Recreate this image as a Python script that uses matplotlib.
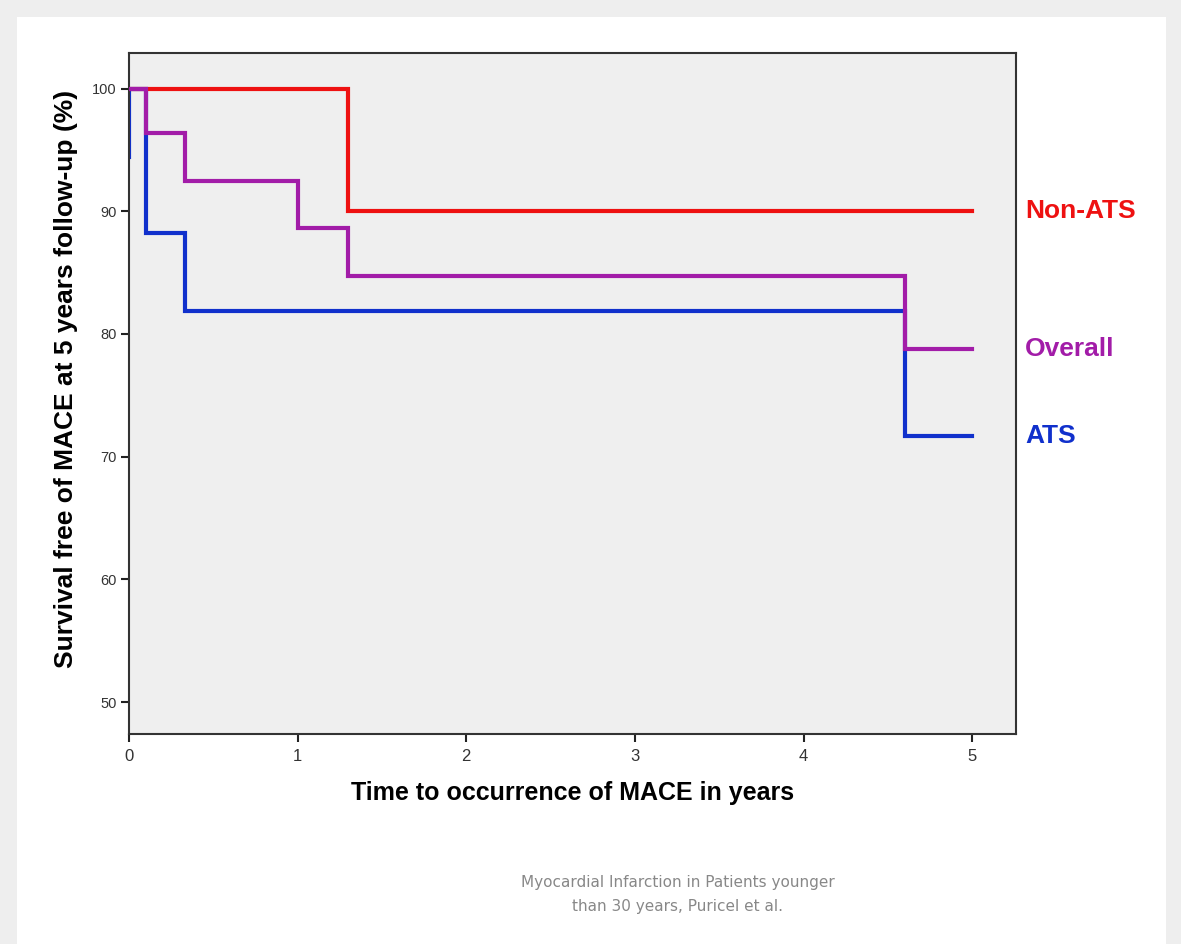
import matplotlib.pyplot as plt
from matplotlib.patches import Rectangle

# Kaplan-Meier style steps
t_nonats = [0, 0.1, 1.3, 1.3, 5.0]
s_nonats = [100, 100, 100, 90, 90]

t_overall = [0, 0.1, 0.1, 0.33, 0.33, 1.0, 1.0, 1.3, 1.3, 4.6, 4.6, 5.0]
s_overall = [100, 100, 96.4, 96.4, 92.5, 92.5, 88.6, 88.6, 84.7, 84.7, 78.8, 78.8]

t_ats = [0, 0, 0.1, 0.1, 0.33, 0.33, 4.6, 4.6, 5.0]
s_ats = [94.4, 100, 100, 88.2, 88.2, 81.9, 81.9, 71.7, 71.7]

group_labels = ["Non-ATS", "Overall", "ATS"]
label_values = [90, 78.8, 71.7]
colors = ["#ee1111", "#a21ca8", "#1030cc"]

W, H = 1181, 944
fig = plt.figure(figsize=(W / 100, H / 100), dpi=100)
fig.patch.set_facecolor("#eeeeee")
fig.patches.append(Rectangle((17 / W, 0), (1166 - 17) / W, (H - 17) / H,
                             transform=fig.transFigure, facecolor="white",
                             edgecolor="none", zorder=-10))

# axes box in pixels: left 129, right 1016, top 53, bottom 734
ax = fig.add_axes([129 / W, 1 - 734 / H, (1016 - 129) / W, (734 - 53) / H])
ax.set_zorder(1)
ax.set_facecolor("#efefef")

ax.plot(t_ats, s_ats, color=colors[2], lw=3, zorder=2, solid_joinstyle="miter")
ax.plot(t_nonats, s_nonats, color=colors[0], lw=3, zorder=3, solid_joinstyle="miter")
ax.plot(t_overall, s_overall, color=colors[1], lw=3, zorder=4, solid_joinstyle="miter")

ax.set_xlim(0, 5.26)
ax.set_ylim(47.4, 102.9)
ax.set_xticks([0, 1, 2, 3, 4, 5])
ax.set_yticks([50, 60, 70, 80, 90, 100])
ax.tick_params(direction="out", length=6, width=1.5,
               colors="#222222", labelcolor="#333333")
ax.tick_params(axis="x", pad=5, labelsize=12)
ax.tick_params(axis="y", pad=3, labelsize=10.5)
for lbl in ax.get_xticklabels() + ax.get_yticklabels():
    lbl.set_family("Liberation Sans")
for sp in ax.spines.values():
    sp.set_linewidth(1.5)
    sp.set_color("#333333")

for lab, v, c in zip(group_labels, label_values, colors):
    ax.text(1.01, v, lab, color=c, fontsize=19, fontweight="bold",
            transform=ax.get_yaxis_transform(), va="center", ha="left",
            family="Liberation Sans")

ax.set_xlabel("Time to occurrence of MACE in years", fontsize=18,
              fontweight="bold", family="Liberation Sans", labelpad=12)
ax.set_ylabel("Survival free of MACE at 5 years follow-up (%)", fontsize=19,
              fontweight="bold", family="Liberation Sans", labelpad=10)
ax.yaxis.label.set_y(0.522)

fig.text(678 / W, 1 - 883 / H, "Myocardial Infarction in Patients younger",
         ha="center", va="center", fontsize=11, color="#888888")
fig.text(678 / W, 1 - 907 / H, "than 30 years, Puricel et al.",
         ha="center", va="center", fontsize=11, color="#888888")

fig.savefig("out.png", dpi=100)
